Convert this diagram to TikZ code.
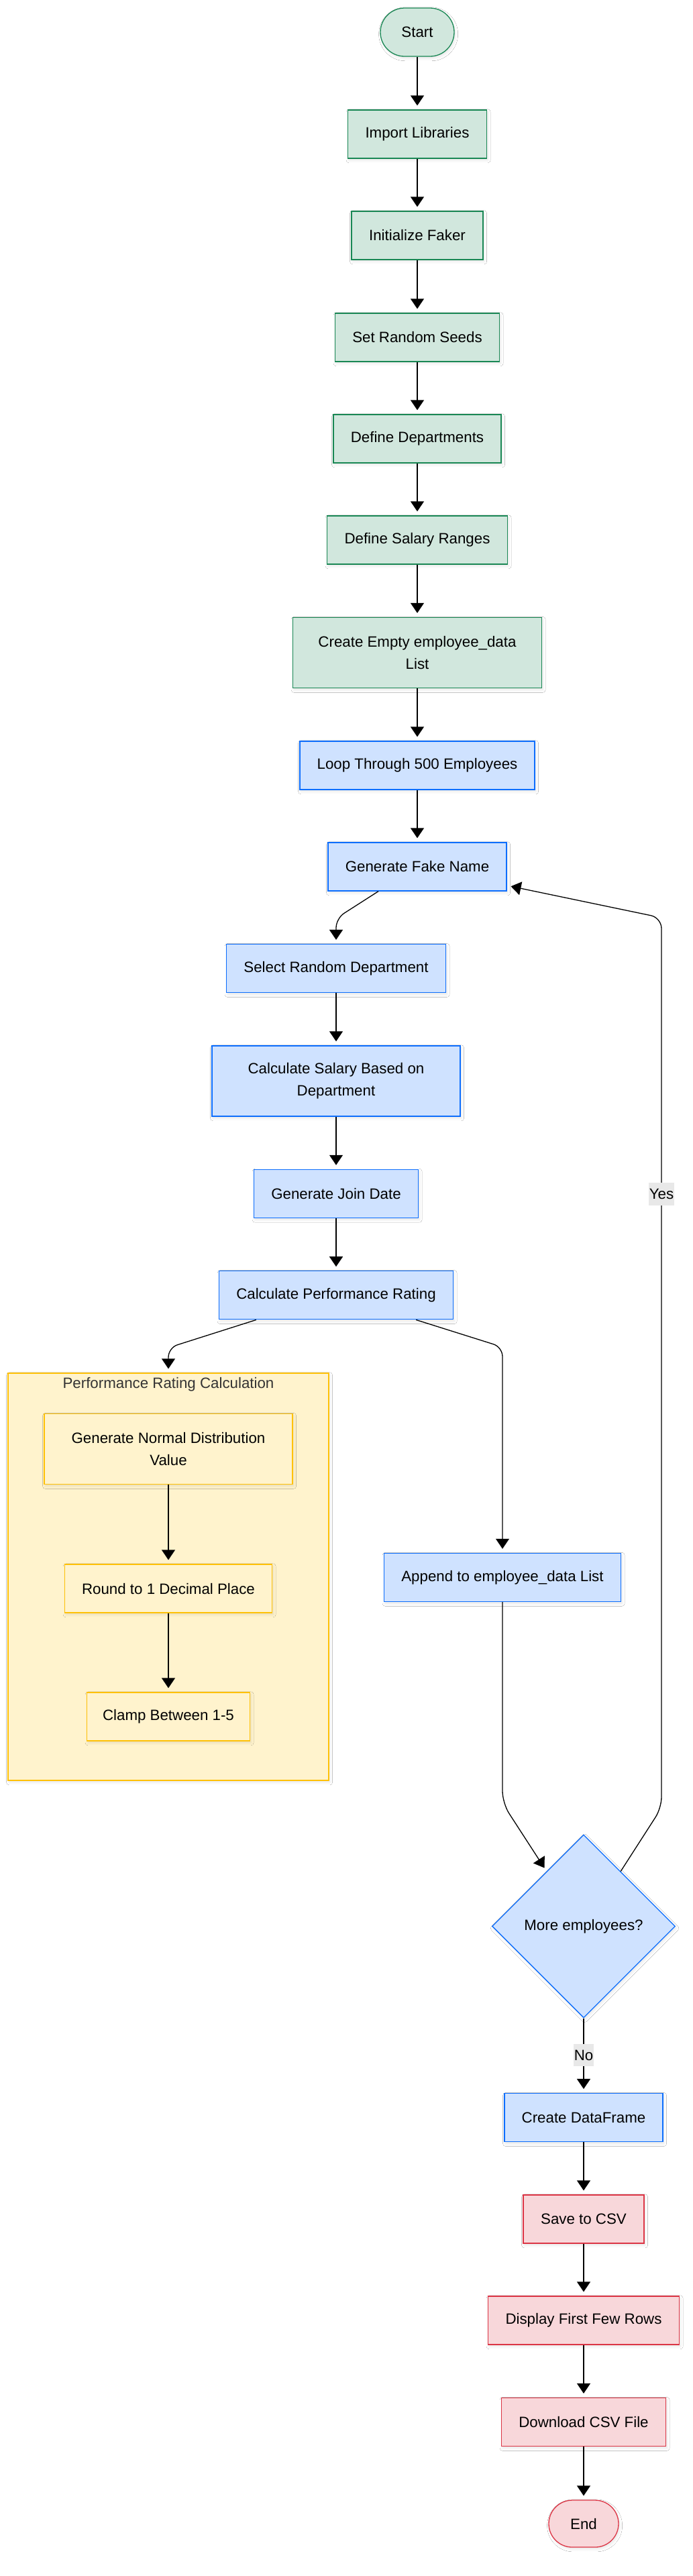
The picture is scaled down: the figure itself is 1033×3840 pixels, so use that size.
\documentclass[tikz,border=0pt]{standalone}
\usepackage{fontspec}
\setmainfont{Liberation Sans}
\usetikzlibrary{shapes.geometric, arrows.meta, shadows.blur}
\definecolor{gfill}{HTML}{D1E7DD}
\definecolor{gline}{HTML}{198754}
\definecolor{bfill}{HTML}{CFE2FF}
\definecolor{bline}{HTML}{0D6EFD}
\definecolor{yfill}{HTML}{FFF3CD}
\definecolor{yline}{HTML}{FFC107}
\definecolor{rfill}{HTML}{F8D7DA}
\definecolor{rline}{HTML}{DC3545}
\definecolor{lblbg}{HTML}{E8E8E8}
\definecolor{titlec}{HTML}{333333}
\begin{document}
\begin{tikzpicture}[x=0.5pt, y=-0.5pt,
  font=\fontsize{11.15}{16.5}\selectfont,
  base/.style={draw, line width=0.65pt, align=center, inner sep=0pt, minimum height=36pt,
    blur shadow={shadow xshift=0.8pt, shadow yshift=-1.4pt, shadow opacity=10, shadow blur steps=5, shadow blur radius=2pt}},
  gbox/.style={base, fill=gfill, draw=gline},
  bbox/.style={base, fill=bfill, draw=bline},
  ybox/.style={base, fill=yfill, draw=yline},
  rbox/.style={base, fill=rfill, draw=rline},
  tall/.style={minimum height=52.5pt},
  arr/.style={draw=black, line width=0.65pt, -{Triangle[length=7.5pt,width=10pt]}, shorten >=3pt},
  elabel/.style={fill=lblbg, inner xsep=0.6pt, inner ysep=0pt, minimum height=16.75pt}
]
\useasboundingbox (0,0) rectangle (1033,3840);
\fill[white] (0,0) rectangle (1033,3840);

% main column
\node[gbox, rounded corners=18pt, minimum width=55pt] (start) at (622,48) {Start};
\node[gbox, minimum width=103.5pt] (imp) at (622,200) {Import Libraries};
\node[gbox, minimum width=98pt] (fak) at (622,351) {Initialize Faker};
\node[gbox, minimum width=122.5pt] (seed) at (622,503) {Set Random Seeds};
\node[gbox, minimum width=125pt] (dept) at (622,654) {Define Departments};
\node[gbox, minimum width=134.5pt] (sal) at (622,805) {Define Salary Ranges};
\node[gbox, tall, minimum width=185.5pt] (emp) at (622,973) {Create Empty employee\_data\\List};
\node[bbox, minimum width=175pt] (loop) at (622,1141) {Loop Through 500 Employees};
\node[bbox, minimum width=133pt] (gfn) at (622,1292) {Generate Fake Name};

% second column
\node[bbox, minimum width=163.5pt] (sel) at (501,1443.6) {Select Random Department};
\node[bbox, tall, minimum width=185pt] (csal) at (501,1611.5) {Calculate Salary Based on\\Department};
\node[bbox, minimum width=122.5pt] (join) at (501,1779.4) {Generate Join Date};
\node[bbox, minimum width=174.5pt] (perf) at (501,1930.8) {Calculate Performance Rating};

% subgraph
\node[ybox, minimum width=239pt, minimum height=303.5pt] (sg) at (251,2350.5) {};
\node[text=titlec] (sgt) at (251,2064) {Performance Rating Calculation};
\node[ybox, tall, minimum width=185pt] (gn) at (251,2160) {Generate Normal Distribution\\Value};
\node[ybox, minimum width=154.5pt] (rnd) at (251,2368) {Round to 1 Decimal Place};
\node[ybox, minimum width=121.5pt] (clp) at (251,2559) {Clamp Between 1-5};

% right part
\node[bbox, minimum width=176.5pt] (app) at (749,2351.4) {Append to employee\_data List};
\node[bbox, diamond, aspect=1, minimum width=136.5pt, minimum height=136.5pt] (dia) at (870,2871.4) {More employees?};
\node[bbox, minimum width=118pt] (df) at (870,3156.6) {Create DataFrame};
\node[rbox, minimum width=90pt] (save) at (870,3308) {Save to CSV};
\node[rbox, minimum width=142.5pt] (disp) at (870,3459) {Display First Few Rows};
\node[rbox, minimum width=122.5pt] (dl) at (870,3610.5) {Download CSV File};
\node[rbox, rounded corners=17.5pt, minimum width=52pt, minimum height=35pt] (end) at (870,3762) {End};

% straight edges
\foreach \a/\b in {start/imp, imp/fak, fak/seed, seed/dept, dept/sal, sal/emp, emp/loop, loop/gfn,
  sel/csal, csal/join, join/perf, gn/rnd, rnd/clp, df/save, save/disp, disp/dl, dl/end}
  \draw[arr] (\a.south) -- (\b.north);

% bent edges
\coordinate (b1) at (501,1369);
\draw[arr, rounded corners=7pt] ([xshift=-29pt]gfn.south) -- (b1) -- (sel.north);
\coordinate (b2) at (251,2009);
\draw[arr, rounded corners=7pt] ([xshift=-59.6pt]perf.south) -- (b2) -- (sg.north);
\coordinate (b3) at (749,2008);
\draw[arr, rounded corners=7pt] ([xshift=59.6pt]perf.south) -- (b3) -- (app.north);
\coordinate (b4) at (749,2688);
\draw[arr, rounded corners=9pt] (app.south) -- (b4) -- (dia.124);
\coordinate (b5) at (986,2695);
\coordinate (b6) at (986,1368);
\draw[arr, rounded corners=8pt] (dia.56) -- (b5) -- (b6) -- ([yshift=-14pt]gfn.east);
\node[elabel] (yes) at (986,1780) {Yes};
\draw[arr] (dia.south) -- (df.north);
\node[elabel] (no) at (870,3063.5) {No};
\end{tikzpicture}
\end{document}
